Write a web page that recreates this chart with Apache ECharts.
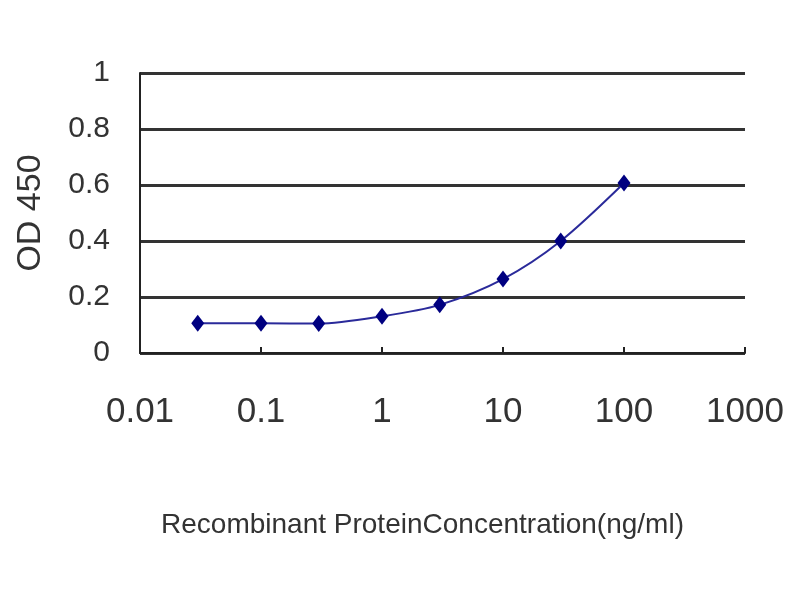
<!DOCTYPE html>
<html><head><meta charset="utf-8">
<script src="https://cdn.jsdelivr.net/npm/echarts@6/dist/echarts.min.js"></script>
<style>html,body{margin:0;padding:0;background:#fff}#c{width:800px;height:600px}</style>
</head><body><div id="c"></div>
<script>
const concentrations = [0.03, 0.1, 0.3, 1, 3, 10, 30, 100];
const od450 = [0.106, 0.106, 0.105, 0.131, 0.172, 0.264, 0.400, 0.607];
const xTitle = 'Recombinant ProteinConcentration(ng/ml)';
const yTitle = 'OD 450';

const chart = echarts.init(document.getElementById('c'));
chart.setOption({
  backgroundColor: '#fff',
  animation: false,
  grid: {left: 140, top: 73, width: 605, height: 280, containLabel: false, outerBoundsMode: 'none'},
  xAxis: {
    type: 'log', logBase: 10, min: 0.01, max: 1000,
    axisLine: {show: true, lineStyle: {color: '#222', width: 2}},
    axisTick: {show: true, inside: true, length: 6, lineStyle: {color: '#222', width: 2}},
    splitLine: {show: false},
    minorTick: {show: false},
    axisLabel: {
      color: '#333', fontSize: 35, fontFamily: 'Liberation Sans, Arial, sans-serif', margin: 42,
      formatter: v => String(+v.toPrecision(6))
    },
    name: xTitle, nameLocation: 'middle', nameGap: 158,
    nameTextStyle: {color: '#333', fontSize: 28, fontFamily: 'Liberation Sans, Arial, sans-serif', padding: [0, 40, 0, 0]}
  },
  yAxis: {
    type: 'value', min: 0, max: 1, interval: 0.2,
    axisLine: {show: true, lineStyle: {color: '#222', width: 2}},
    axisTick: {show: false},
    splitLine: {show: true, lineStyle: {color: '#333', width: 3}},
    axisLabel: {color: '#333', fontSize: 30, fontFamily: 'Liberation Sans, Arial, sans-serif', margin: 30},
    name: yTitle, nameLocation: 'middle', nameGap: 92, nameRotate: 90,
    nameTextStyle: {color: '#333', fontSize: 34, fontFamily: 'Liberation Sans, Arial, sans-serif'}
  },
  series: [{
    type: 'line',
    data: concentrations.map((c, i) => [c, od450[i]]),
    smooth: 0.3,
    symbol: 'diamond', symbolSize: [13, 17],
    itemStyle: {color: '#000080'},
    lineStyle: {color: '#2a2a9a', width: 2}
  }]
});
</script></body></html>
